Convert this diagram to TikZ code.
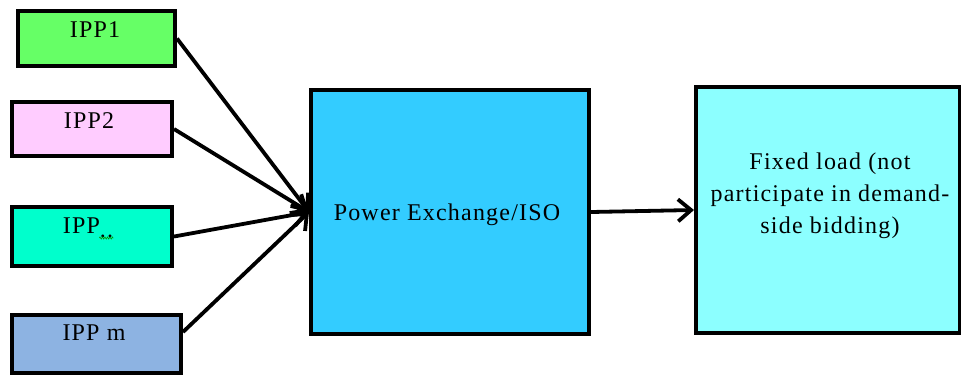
\documentclass[tikz,border=0pt]{standalone}
\usepackage{fontspec}
\setmainfont{Liberation Serif}
\usetikzlibrary{arrows.meta,calc,decorations.pathmorphing}

\definecolor{ippgreen}{HTML}{66FF66}
\definecolor{ipppink}{HTML}{FFCCFF}
\definecolor{ippteal}{HTML}{00FFCC}
\definecolor{ippblue}{HTML}{8DB3E2}
\definecolor{pxblue}{HTML}{33CCFF}
\definecolor{loadcyan}{HTML}{8CFFFF}

\begin{document}
\begin{tikzpicture}[x=1pt,y=-1pt,
  box/.style={draw=black,line width=4pt,inner sep=0pt,anchor=north west},
  conn/.style={line width=3.8pt,-{Straight Barb[length=13pt,width=22pt,line width=3.8pt]}},
  lbl/.style={font=\fontsize{24}{32}\addfontfeature{LetterSpace=5}\selectfont,inner sep=0pt}]
\useasboundingbox (0,0) rectangle (961,376);

% generator boxes
\node[box,fill=ippgreen,minimum width=157pt,minimum height=55pt] (ipp1) at (16,9) {};
\node[box,fill=ipppink,minimum width=160pt,minimum height=54pt] (ipp2) at (10,100) {};
\node[box,fill=ippteal,minimum width=160pt,minimum height=59pt] (ippx) at (10,205) {};
\node[box,fill=ippblue,minimum width=169pt,minimum height=58pt] (ippm) at (10,313) {};

% market and load boxes
\node[box,fill=pxblue,minimum width=278pt,minimum height=244pt] (pex) at (309,88) {};
\node[box,fill=loadcyan,minimum width=264pt,minimum height=246pt] (load) at (694,85) {};

% labels
\node[lbl,anchor=base] (t1) at (95,37) {IPP1};
\node[lbl,anchor=base] (t2) at (89,128) {IPP2};
\node[lbl,anchor=base] (tx) at (88,233) {IPP\raisebox{-4pt}{..}};
\draw[green!60!black,line width=0.6pt,decorate,decoration={zigzag,segment length=2.5pt,amplitude=1pt}] ($(tx.base east)+(-14,5)$) coordinate (zz1) -- ($(tx.base east)+(0,5)$) coordinate (zz2);
\node[lbl,anchor=base] (tm) at (94,340) {IPP m};
\node[lbl,anchor=base] (tp) at (447,220) {Power Exchange/ISO};
\node[lbl,align=center,anchor=center] (tl) at (830,196) {Fixed load (not\\participate in demand-\\side bidding)};

% connectors
\draw[conn] (ipp1.east) -- (pex.west);
\draw[conn] (ipp2.east) -- (pex.west);
\draw[conn] (ippx.east) -- (pex.west);
\draw[conn] ($(ippm.east)+(0,-12)$) -- (pex.west);
\draw[conn] (pex.east) -- (load.west);
\end{tikzpicture}
\end{document}
